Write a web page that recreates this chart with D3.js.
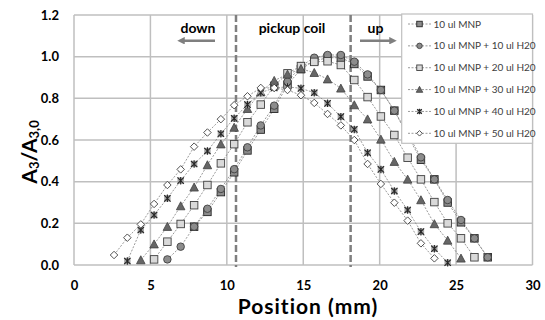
<!DOCTYPE html>
<html><head><meta charset="utf-8">
<script src="https://cdn.jsdelivr.net/npm/d3@7"></script>
<style>body{margin:0;background:#fff}svg{display:block}</style>
</head><body>
<svg id="c" width="545" height="320"></svg>
<script>
// sample positions (mm), index n = 0..31
const positions = [0, 0.87, 1.75, 2.62, 3.49, 4.37, 5.24, 6.11, 6.98, 7.86, 8.73, 9.61, 10.48, 11.35, 12.22, 13.10,
  13.97, 14.85, 15.72, 16.59, 17.46, 18.34, 19.21, 20.08, 20.96, 21.83, 22.70, 23.58, 24.45, 25.32, 26.20, 27.07];
const _ = null;
const mnp     = [_,_,_,_,_,_,_,_,_, 0.184,0.255,0.35,0.445,0.55,0.65,0.75,0.865,0.94,0.98,0.995,0.995,0.965,0.905,0.84,0.741,0.62,0.505,0.411,0.30,0.205,0.128,0.037];
const mnp10   = [_,_,_,_,_,_,_, 0.027,0.088,0.184,0.27,0.365,0.46,0.565,0.67,0.765,0.88,0.955,0.995,1.008,1.008,0.976,0.915,0.84,0.741,0.63,0.517,0.411,0.312,0.216,0.128,0.037];
const mnp20   = [_,_,_,_,_,_, 0.027,0.112,0.197,0.287,0.384,0.488,0.58,0.685,0.77,0.86,0.92,0.955,0.975,0.978,0.96,0.888,0.806,0.713,0.624,0.515,0.411,0.302,0.20,0.128,0.037,_];
const mnp30   = [_,_,_,_,_, 0.024,0.10,0.184,0.283,0.373,0.48,0.58,0.66,0.75,0.83,0.885,0.915,0.942,0.923,0.892,0.848,0.768,0.70,0.603,0.496,0.411,0.312,0.197,0.118,0.032,_,_];
const mnp40   = [_,_,_,_, 0.019,0.168,0.24,0.32,0.405,0.485,0.547,0.63,0.704,0.77,0.827,0.85,0.855,0.848,0.827,0.776,0.712,0.651,0.539,0.459,0.355,0.264,0.16,0.078,0.011,_,_,_];
const mnp50   = [_,_,_, 0.048,0.131,0.195,0.293,0.384,0.459,0.568,0.636,0.70,0.767,0.81,0.85,0.85,0.84,0.815,0.778,0.725,0.67,0.60,0.485,0.389,0.299,0.213,0.104,0.032,_,_,_,_];
const seriesNames = ["10 ul MNP","10 ul MNP + 10 ul H20","10 ul MNP + 20 ul H20","10 ul MNP + 30 ul H20","10 ul MNP + 40 ul H20","10 ul MNP + 50 ul H20"];
const xTicks = [0,5,10,15,20,25,30];
const yTicks = [0,0.2,0.4,0.6,0.8,1.0,1.2];
const coilEdges = [10.6, 18.1];

const seriesValues = [mnp, mnp10, mnp20, mnp30, mnp40, mnp50];
const markerKinds = ["square","circle","lsquare","triangle","star","diamond"];

const svg = d3.select("#c");
const x = d3.scaleLinear().domain([0,30]).range([74,532.5]);
const y = d3.scaleLinear().domain([0,1.2]).range([265,15]);
const FONT = "Lato, 'Liberation Sans', sans-serif";
const grid = "#bfbfbf";

// grid
svg.append("g").selectAll("line").data(xTicks).join("line")
  .attr("x1",d=>x(d)).attr("x2",d=>x(d)).attr("y1",y(0)).attr("y2",y(1.2))
  .attr("stroke",grid).attr("stroke-width",1.5);
svg.append("g").selectAll("line").data(yTicks).join("line")
  .attr("x1",x(0)).attr("x2",x(30)).attr("y1",d=>y(d)).attr("y2",d=>y(d))
  .attr("stroke",grid).attr("stroke-width",1.5);

// axes labels via d3 axes (no lines)
const xa = svg.append("g").attr("transform",`translate(0,${y(0)})`)
  .call(d3.axisBottom(x).tickValues(xTicks).tickSize(0).tickPadding(16).tickFormat(d3.format("d")));
xa.select(".domain").remove();
xa.selectAll("text").attr("font-family",FONT).attr("font-weight","bold").attr("font-size",13).attr("fill","#000");
const ya = svg.append("g").attr("transform",`translate(${x(0)},0)`)
  .call(d3.axisLeft(y).tickValues(yTicks).tickSize(0).tickPadding(15).tickFormat(d3.format(".1f")));
ya.select(".domain").remove();
ya.selectAll("text").attr("font-family",FONT).attr("font-weight","bold").attr("font-size",13).attr("fill","#000");

// coil dashed lines
svg.append("g").selectAll("line").data(coilEdges).join("line")
  .attr("x1",d=>x(d)).attr("x2",d=>x(d)).attr("y1",y(1.2)).attr("y2",y(0)+2)
  .attr("stroke","#7f7f7f").attr("stroke-width",2.5).attr("stroke-dasharray","7,3");

// annotations
const ann = svg.append("g").attr("font-family",FONT).attr("font-weight","bold").attr("font-size",14).attr("text-anchor","middle");
ann.append("text").attr("x",198).attr("y",33).text("down");
ann.append("text").attr("x",292).attr("y",33).text("pickup coil");
ann.append("text").attr("x",375.5).attr("y",33).text("up");
svg.append("defs").append("marker").attr("id","ah").attr("viewBox","0 0 10 10").attr("refX",5).attr("refY",5)
  .attr("markerWidth",3).attr("markerHeight",3).attr("orient","auto-start-reverse")
  .append("path").attr("d","M0,0L10,5L0,10Z").attr("fill","#7f7f7f");
svg.append("line").attr("x1",215).attr("x2",181).attr("y1",40.7).attr("y2",40.7)
  .attr("stroke","#7f7f7f").attr("stroke-width",2.5).attr("marker-end","url(#ah)");
svg.append("line").attr("x1",360).attr("x2",393).attr("y1",40.7).attr("y2",40.7)
  .attr("stroke","#7f7f7f").attr("stroke-width",2.5).attr("marker-end","url(#ah)");

// marker drawing
function drawMarker(g, kind, s){
  const h = s/2;
  if(kind==="square"){
    g.append("rect").attr("x",-h).attr("y",-h).attr("width",s).attr("height",s).attr("fill","#8c8c8c").attr("stroke","#262626").attr("stroke-width",0.9);
  } else if(kind==="lsquare"){
    g.append("rect").attr("x",-h).attr("y",-h).attr("width",s).attr("height",s).attr("fill","#d9d9d9").attr("stroke","#404040").attr("stroke-width",0.9);
  } else if(kind==="circle"){
    g.append("circle").attr("r",h).attr("fill","#8c8c8c").attr("stroke","#404040").attr("stroke-width",0.9);
  } else if(kind==="triangle"){
    g.append("path").attr("d",`M0,${-h-0.5}L${h+0.5},${h}L${-h-0.5},${h}Z`).attr("fill","#666").attr("stroke","#404040").attr("stroke-width",0.8);
  } else if(kind==="star"){
    const k = h*0.85;
    g.append("rect").attr("x",-k).attr("y",-k).attr("width",2*k).attr("height",2*k).attr("fill","#a6a6a6");
    g.append("path").attr("d",`M${-k},${-k}L${k},${k}M${-k},${k}L${k},${-k}M0,${-h}L0,${h}`).attr("stroke","#262626").attr("stroke-width",1.1).attr("fill","none");
  } else if(kind==="diamond"){
    g.append("path").attr("d",`M0,${-h}L${h},0L0,${h}L${-h},0Z`).attr("fill","#fff").attr("stroke","#404040").attr("stroke-width",0.9);
  }
}

// series
const line = d3.line().defined(d=>d.v!==null).x(d=>x(d.p)).y(d=>y(d.v));
seriesValues.forEach((vals,i)=>{
  const pts = vals.map((v,j)=>({p:positions[j], v}));
  const g = svg.append("g");
  g.append("path").datum(pts).attr("d",line).attr("fill","none").attr("stroke","#808080").attr("stroke-width",0.8).attr("stroke-dasharray","2,1.5");
  pts.filter(d=>d.v!==null).forEach(d=>{
    const m = g.append("g").attr("transform",`translate(${x(d.p)},${y(d.v)})`);
    drawMarker(m, markerKinds[i], 7.5);
  });
});

// legend
const lg = svg.append("g");
lg.append("rect").attr("x",401.7).attr("y",14).attr("width",130.8).attr("height",129.3).attr("fill","#fff").attr("stroke",grid).attr("stroke-width",1.2);
const ly = d3.scalePoint().domain(seriesNames).range([24,133.3]);
seriesNames.forEach((nm,i)=>{
  const yy = ly(nm);
  lg.append("line").attr("x1",408).attr("x2",431).attr("y1",yy).attr("y2",yy).attr("stroke","#808080").attr("stroke-width",0.8).attr("stroke-dasharray","2,1.5");
  drawMarker(lg.append("g").attr("transform",`translate(419.5,${yy})`), markerKinds[i], 5.5);
  lg.append("text").attr("x",433.5).attr("y",yy).attr("dy","0.35em").attr("font-family",FONT).attr("font-size",10).attr("fill","#404040").text(nm);
});

// axis titles
svg.append("text").attr("x",308).attr("y",314).attr("text-anchor","middle").attr("font-family",FONT).attr("font-weight","bold").attr("font-size",21).attr("letter-spacing",1).text("Position (mm)");
const yt = svg.append("text").attr("transform","translate(37,152) rotate(-90)").attr("text-anchor","middle").attr("font-family",FONT).attr("font-weight","bold").attr("font-size",21);
yt.append("tspan").text("A");
yt.append("tspan").attr("font-size",13).attr("dy",2).text("3");
yt.append("tspan").attr("dy",-2).text("/A");
yt.append("tspan").attr("font-size",13).attr("dy",2).text("3,0");
</script>
</body></html>
